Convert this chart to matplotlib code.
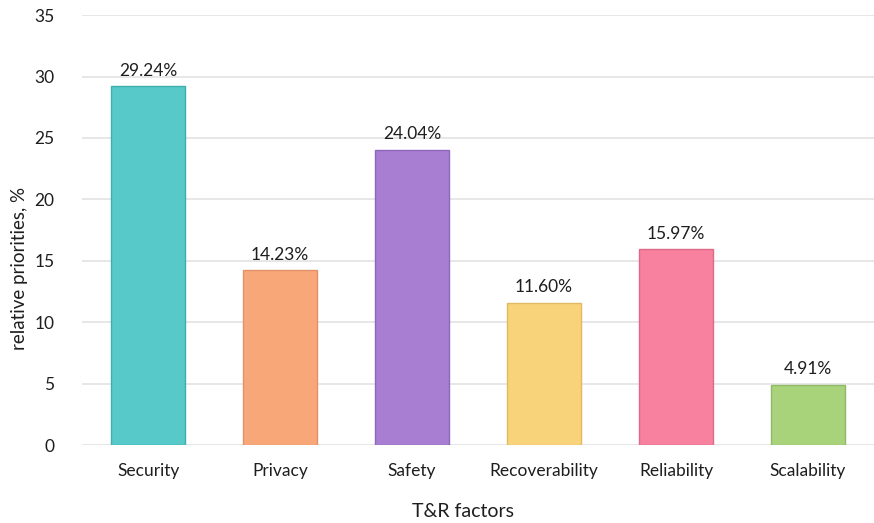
import matplotlib.pyplot as plt
import numpy as np

factors = ["Security", "Privacy", "Safety", "Recoverability", "Reliability", "Scalability"]
priorities = [29.24, 14.23, 24.04, 11.60, 15.97, 4.91]
colors = ["#56C9C8", "#F8A878", "#A77ED1", "#F9D37A", "#F7819F", "#A9D37B"]
edges = ["#3FAFAE", "#E0916A", "#8E68B8", "#E0B963", "#DC6A88", "#8FB966"]

plt.rcParams['font.family'] = ['Lato', 'DejaVu Sans']

fig = plt.figure(figsize=(8.74, 5.23), dpi=100)
ax = fig.add_axes([0.094, 0.149, 0.906, 0.822])

x = np.arange(len(factors))
ax.bar(x, priorities, 0.56, color=colors, edgecolor=edges, linewidth=1, zorder=3)
for xi, v in zip(x, priorities):
    ax.text(xi, v + 0.6, "%.2f%%" % v, ha='center', va='bottom', fontsize=12.5, color='#1E1E1E')

ax.set_xlim(-0.5, 5.5)
ax.set_ylim(0, 35)
ax.set_yticks(range(0, 36, 5))
ax.set_xticks(x)
ax.set_xticklabels(factors)
ax.tick_params(length=0, labelsize=12.5, colors='#1E1E1E')
ax.tick_params(axis='x', pad=13)
ax.tick_params(axis='y', pad=20)
ax.grid(axis='y', color='#E3E3E3', linewidth=1.2, zorder=0)
for s in ax.spines.values():
    s.set_visible(False)

ax.set_xlabel("T&R factors", fontsize=14, color='#1E1E1E')
ax.set_ylabel("relative priorities, %", fontsize=13.5, color='#1E1E1E')
ax.xaxis.set_label_coords(0.481, -0.135)
ax.yaxis.set_label_coords(-0.068, 0.41)

plt.savefig("out.png", dpi=100)
